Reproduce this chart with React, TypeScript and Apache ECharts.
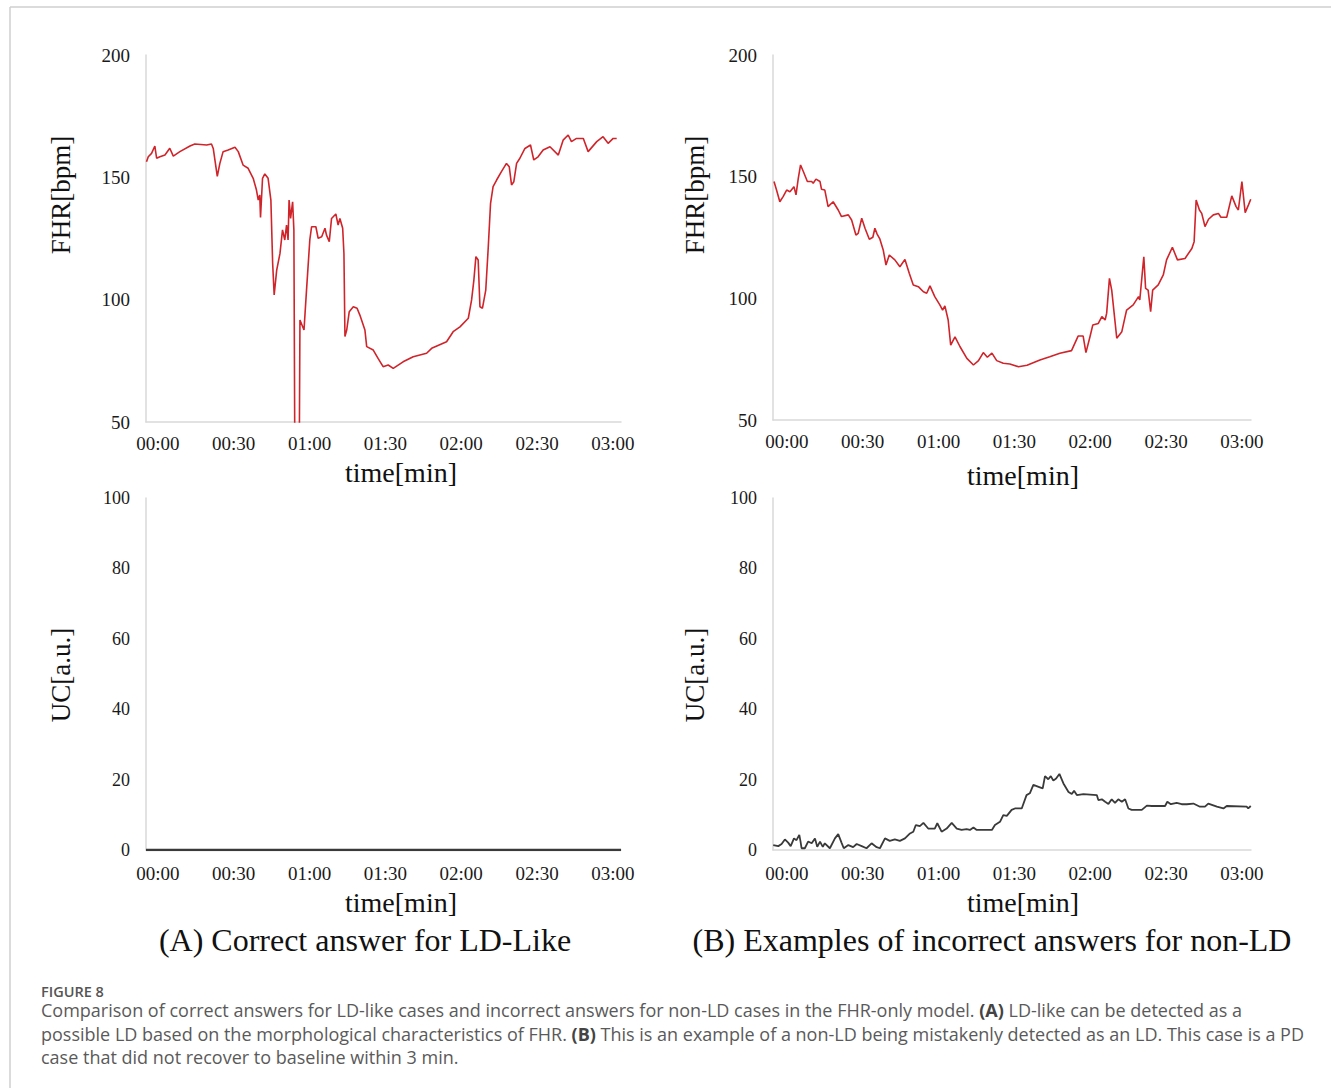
import React, { useEffect, useRef } from "react";
import * as echarts from "echarts";

// ---- data ----
const xTickValues = [0, 30, 60, 90, 120, 150, 180];
const xTickLabels = ["00:00", "00:30", "01:00", "01:30", "02:00", "02:30", "03:00"];

// (A) FHR, LD-like
const fhrA_t = [-4.5, -3.8, -2.5, -1.2, -0.5, 0.8, 2.8, 4.7, 6.1, 8.7, 12.7, 14.6, 19.3, 21.2, 21.9, 23.5, 24.5, 25.8, 27.8, 30.5, 31.8, 33.7, 35.7, 37.7, 39.0, 39.7, 40.3, 40.6, 41.4, 42.3, 43.6, 44.7, 45.4, 46.0, 47.0, 48.3, 49.3, 50.2, 50.9, 51.5, 51.9, 52.5, 53.3, 53.8, 54.2, 55.9, 56.2, 57.8, 58.8, 60.1, 60.8, 62.5, 63.4, 64.8, 66.1, 66.7, 67.8, 68.7, 70.4, 71.3, 72.0, 73.1, 73.6, 74.0, 74.7, 75.7, 77.3, 78.8, 79.9, 81.9, 82.6, 85.2, 87.1, 89.1, 91.1, 93.1, 97.0, 101.0, 106.3, 108.3, 114.2, 116.8, 119.5, 122.8, 124.1, 125.0, 125.8, 126.7, 127.4, 128.4, 129.7, 130.7, 131.6, 132.6, 134.0, 135.9, 137.9, 139.0, 139.9, 140.8, 141.9, 143.2, 145.2, 147.4, 148.7, 150.4, 152.4, 155.1, 158.4, 160.3, 162.3, 163.6, 165.6, 168.3, 170.2, 173.6, 176.1, 178.1, 180.1, 181.5];
const fhrA_v = [156.4, 158.4, 159.8, 162.8, 157.8, 158.4, 159.1, 161.9, 158.7, 160.5, 162.8, 163.6, 163.2, 163.6, 161.8, 150.4, 155.6, 160.5, 161.2, 162.3, 160.5, 155.0, 153.7, 149.6, 144.8, 140.7, 142.8, 133.6, 149.6, 151.4, 149.6, 140.7, 114.9, 101.9, 112.1, 118.9, 128.5, 124.4, 130.5, 124.4, 140.7, 133.2, 140.0, 128.5, 30, 30, 91.7, 87.6, 103.9, 124.4, 129.8, 129.8, 125.1, 125.7, 129.2, 126.4, 123.7, 133.2, 135.0, 130.5, 133.2, 129.2, 118.9, 84.9, 87.6, 95.1, 97.1, 96.5, 93.7, 87.6, 80.8, 79.4, 76.0, 72.6, 73.3, 71.9, 74.6, 76.7, 78.1, 80.1, 82.8, 86.9, 88.9, 92.4, 99.9, 108.0, 117.6, 116.2, 97.1, 96.5, 103.9, 121.6, 139.4, 146.2, 148.9, 152.3, 155.7, 154.3, 146.9, 148.2, 155.7, 157.8, 161.8, 163.2, 157.1, 158.4, 161.2, 162.5, 159.1, 165.2, 167.3, 164.6, 165.9, 165.9, 160.5, 164.6, 166.6, 163.9, 165.9, 165.9];

// (B) FHR, non-LD
const fhrB_t = [-5.1, -4.1, -2.8, -1.5, -0.1, 1.2, 2.8, 3.6, 4.5, 5.4, 6.5, 8.1, 9.8, 10.4, 11.5, 13.1, 13.7, 15.0, 16.3, 18.3, 20.3, 21.6, 24.3, 25.6, 27.3, 28.2, 29.6, 30.9, 32.6, 34.0, 34.8, 35.7, 36.8, 38.1, 39.2, 40.5, 42.7, 44.7, 46.7, 48.4, 50.0, 52.0, 54.0, 55.3, 56.6, 58.5, 60.5, 61.6, 62.5, 63.8, 64.8, 66.5, 68.5, 71.2, 73.8, 75.8, 77.7, 79.3, 81.1, 83.0, 85.6, 88.2, 91.6, 95.0, 100.1, 104.0, 108.0, 112.6, 115.2, 117.2, 118.3, 119.9, 121.0, 123.2, 124.6, 125.9, 126.5, 127.6, 128.5, 130.5, 132.5, 133.8, 134.4, 137.0, 139.1, 139.6, 140.7, 141.2, 141.9, 142.9, 143.9, 144.7, 146.9, 148.9, 150.2, 152.5, 154.5, 157.5, 160.2, 161.1, 161.9, 163.2, 164.1, 165.4, 166.8, 168.7, 170.7, 171.7, 174.0, 176.0, 177.7, 178.6, 180.0, 181.3, 182.6, 183.5];
const fhrB_v = [148.0, 144.5, 139.7, 141.8, 144.5, 143.8, 145.9, 142.5, 149.3, 154.8, 152.1, 148.0, 148.0, 147.3, 149.0, 148.0, 144.8, 144.5, 137.7, 139.7, 136.3, 133.6, 134.3, 132.2, 126.0, 126.7, 132.9, 128.8, 124.3, 125.1, 128.8, 126.4, 124.3, 119.9, 113.7, 117.8, 115.8, 113.0, 116.0, 110.3, 105.5, 104.8, 102.7, 102.1, 105.1, 100.7, 97.3, 95.2, 96.9, 91.1, 80.8, 84.2, 80.1, 75.3, 72.6, 74.4, 77.7, 75.8, 77.5, 74.4, 73.3, 73.0, 71.9, 72.5, 74.7, 76.0, 77.4, 78.5, 84.5, 84.5, 77.7, 84.2, 89.0, 89.7, 92.5, 91.1, 93.9, 108.2, 103.4, 83.6, 86.3, 92.5, 95.2, 97.3, 100.7, 99.3, 111.6, 117.1, 104.1, 103.4, 94.5, 103.4, 105.5, 109.6, 115.8, 121.0, 115.8, 116.4, 120.5, 123.3, 140.4, 136.3, 134.9, 129.5, 132.5, 134.3, 134.9, 133.3, 133.3, 142.1, 137.7, 136.3, 148.0, 135.2, 138.4, 140.7];

// (A) UC
const ucA_t = [-4.7, 30, 60, 90, 120, 150, 183.2];
const ucA_v = [0, 0, 0, 0, 0, 0, 0];

// (B) UC
const ucB_t = [-5.4, -3.4, -2.1, -0.8, 0.5, 1.5, 2.8, 3.8, 4.9, 5.4, 5.8, 7.1, 8.4, 9.8, 11.1, 12.0, 13.1, 14.2, 15.0, 17.0, 19.0, 20.3, 21.6, 22.5, 24.3, 26.2, 27.6, 29.6, 31.5, 33.5, 35.5, 36.8, 38.8, 40.7, 42.7, 44.7, 46.7, 48.7, 50.0, 51.0, 52.6, 54.0, 55.9, 58.5, 59.5, 61.2, 63.2, 65.2, 67.2, 69.1, 71.1, 72.4, 73.8, 75.1, 81.1, 82.3, 84.3, 85.6, 87.0, 88.9, 90.2, 92.9, 94.8, 96.1, 97.5, 100.1, 101.2, 102.1, 103.4, 104.4, 105.4, 106.5, 107.8, 109.4, 111.4, 112.7, 113.6, 114.7, 117.3, 122.6, 123.2, 124.6, 125.9, 127.2, 128.5, 129.8, 131.1, 132.5, 133.8, 135.1, 136.4, 140.4, 142.4, 144.4, 149.6, 150.5, 151.9, 154.2, 156.2, 158.2, 160.8, 163.4, 165.4, 166.7, 170.1, 172.7, 174.0, 181.9, 182.5, 183.5];
const ucB_v = [1.4, 1.1, 1.7, 3.0, 2.1, 1.1, 3.3, 2.8, 4.3, 2.4, 0.5, 0.5, 2.4, 1.9, 3.3, 0.9, 2.4, 0.9, 1.9, 0.5, 3.3, 4.5, 2.1, 0.5, 1.4, 0.8, 1.7, 1.1, 0.5, 1.9, 0.8, 0.5, 3.3, 2.6, 3.0, 2.6, 3.3, 4.7, 5.2, 7.1, 6.8, 7.7, 6.1, 6.1, 7.6, 5.2, 6.1, 7.7, 6.1, 5.7, 5.9, 5.7, 6.4, 5.7, 5.7, 7.1, 8.0, 9.9, 9.7, 11.4, 11.8, 11.8, 15.6, 16.1, 18.5, 17.8, 17.5, 21.0, 20.1, 21.0, 19.7, 20.3, 21.6, 18.9, 16.5, 15.9, 16.8, 15.6, 15.9, 15.6, 14.2, 14.4, 13.7, 13.1, 14.4, 13.4, 14.4, 13.7, 14.4, 11.8, 11.4, 11.4, 12.6, 12.5, 12.5, 13.7, 13.0, 13.4, 13.0, 13.0, 13.2, 12.3, 12.3, 13.2, 12.3, 11.8, 12.5, 12.3, 11.8, 12.5];

const pairs = (t: number[], v: number[]) => t.map((x, i) => [x, v[i]]);

const SERIF = "'Liberation Serif', 'Times New Roman', serif";
const SANS = "'Open Sans', 'Noto Sans', sans-serif";
const AXIS_GRAY = "#d9d9d9";
const RED = "#d0242b";
const DARK = "#3a3a3a";
const CAP_GRAY = "#5a5a5a";

export default function App() {
  const ref = useRef<HTMLDivElement>(null);

  useEffect(() => {
    if (!ref.current) return;
    const chart = echarts.init(ref.current, undefined, { renderer: "svg" });

    const grids = [
      { left: 146, top: 55, width: 475, height: 367 },
      { left: 773, top: 55, width: 478, height: 365 },
      { left: 146, top: 498, width: 475, height: 352 },
      { left: 773, top: 498, width: 478, height: 352 },
    ];
    const xRanges = [
      [-4.7, 183.2],
      [-5.5, 183.6],
      [-4.7, 183.2],
      [-5.5, 183.6],
    ];

    const xAxis = grids.map((_, i) => ({
      type: "value",
      gridIndex: i,
      min: xRanges[i][0],
      max: xRanges[i][1],
      axisLine: { show: true, onZero: false, lineStyle: { color: AXIS_GRAY, width: 1.5 } },
      axisTick: { show: false },
      splitLine: { show: false },
      axisLabel: {
        customValues: xTickValues,
        formatter: (v: number) => {
          const k = xTickValues.indexOf(Math.round(v));
          return k >= 0 ? xTickLabels[k] : "";
        },
        margin: i < 2 ? 12 : 14,
        color: "#1a1a1a",
        fontFamily: SERIF,
        fontSize: 19,
      },
    }));

    const yAxis = grids.map((_, i) => ({
      type: "value",
      gridIndex: i,
      min: i < 2 ? 50 : 0,
      max: i < 2 ? 200 : 100,
      interval: i < 2 ? 50 : 20,
      axisLine: { show: true, onZero: false, lineStyle: { color: AXIS_GRAY, width: 1.5 } },
      axisTick: { show: false },
      splitLine: { show: false },
      axisLabel: {
        margin: 16,
        color: "#1a1a1a",
        fontFamily: SERIF,
        fontSize: i < 2 ? 19 : 18,
      },
    }));

    const line = (idx: number, data: number[][], color: string, width: number) => ({
      type: "line",
      xAxisIndex: idx,
      yAxisIndex: idx,
      data,
      showSymbol: false,
      symbol: "none",
      clip: true,
      lineStyle: { color, width },
      z: 3,
    });

    const txt = (x: number, y: number, text: string, size: number, rot = 0) => ({
      type: "text",
      x,
      y,
      rotation: rot,
      style: {
        text,
        fill: "#111",
        font: `${size}px ${SERIF}`,
        align: "center",
        verticalAlign: "middle",
      },
    });

    const capLine = (y: number, text: string) => ({
      type: "text",
      x: 41,
      y,
      style: {
        text,
        fill: CAP_GRAY,
        font: `18px ${SANS}`,
        align: "left",
        verticalAlign: "middle",
        rich: { b: { fontWeight: "bold", fill: "#444", fontSize: 18, fontFamily: SANS } },
      },
    });

    chart.setOption({
      animation: false,
      backgroundColor: "#ffffff",
      grid: grids,
      xAxis,
      yAxis,
      series: [
        line(0, pairs(fhrA_t, fhrA_v), RED, 1.6),
        line(1, pairs(fhrB_t, fhrB_v), RED, 1.6),
        line(2, pairs(ucA_t, ucA_v), DARK, 2.5),
        line(3, pairs(ucB_t, ucB_v), DARK, 1.8),
      ],
      graphic: [
        { type: "line", shape: { x1: 10, y1: 7, x2: 1331, y2: 7 }, style: { stroke: "#cfcfcf", lineWidth: 1.5 } },
        { type: "line", shape: { x1: 10, y1: 7, x2: 10, y2: 1088 }, style: { stroke: "#cfcfcf", lineWidth: 1.5 } },
        txt(61, 195, "FHR[bpm]", 27, Math.PI / 2),
        txt(695, 195, "FHR[bpm]", 27, Math.PI / 2),
        txt(61, 675, "UC[a.u.]", 27, Math.PI / 2),
        txt(695, 675, "UC[a.u.]", 27, Math.PI / 2),
        txt(401, 472, "time[min]", 28),
        txt(1023, 475, "time[min]", 28),
        txt(401, 902, "time[min]", 28),
        txt(1023, 902, "time[min]", 28),
        txt(365, 940, "(A) Correct answer for LD-Like", 32),
        txt(992, 940, "(B) Examples of incorrect answers for non-LD", 32),
        {
          type: "text",
          x: 41,
          y: 991,
          style: {
            text: "FIGURE 8",
            fill: "#555",
            font: `600 14.5px ${SANS}`,
            align: "left",
            verticalAlign: "middle",
          },
        },
        capLine(
          1010,
          "Comparison of correct answers for LD-like cases and incorrect answers for non-LD cases in the FHR-only model. {b|(A)} LD-like can be detected as a"
        ),
        capLine(
          1034,
          "possible LD based on the morphological characteristics of FHR. {b|(B)} This is an example of a non-LD being mistakenly detected as an LD. This case is a PD"
        ),
        capLine(1057, "case that did not recover to baseline within 3 min."),
      ],
    });

    return () => chart.dispose();
  }, []);

  return (
    <div
      ref={ref}
      style={{ position: "absolute", left: 0, top: 0, width: 1331, height: 1088 }}
    />
  );
}
